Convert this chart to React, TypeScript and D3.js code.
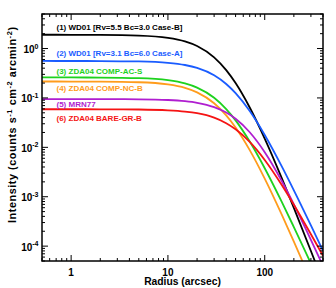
import React from "react";
import * as d3 from "d3";

const radii = [0.5, 1, 2, 5, 10, 15, 20, 30, 40, 50, 70, 100, 150, 200, 300, 400];
const wd01CaseB = [1.9, 1.897, 1.889, 1.833, 1.651, 1.399, 1.128, 0.664, 0.366, 0.2, 0.064, 0.01505, 0.00238, 5.95e-4, 7.98e-5, 1.88e-5];
const wd01CaseA = [0.56, 0.559, 0.558, 0.548, 0.514, 0.464, 0.405, 0.287, 0.1916, 0.125, 0.0542, 0.0178, 0.00412, 0.00135, 2.63e-4, 8.0e-5];
const zda04AcS = [0.26, 0.2597, 0.2586, 0.2516, 0.2287, 0.1967, 0.162, 0.1008, 0.0595, 0.0351, 0.01308, 0.00378, 7.87e-4, 2.43e-4, 4.47e-5, 1.32e-5];
const zda04NcB = [0.215, 0.2147, 0.2138, 0.2076, 0.1874, 0.1596, 0.1296, 0.078, 0.0444, 0.0252, 0.00878, 0.00233, 4.34e-4, 1.24e-4, 2.0e-5, 5.5e-6];
const mrn77 = [0.095, 0.095, 0.0948, 0.0939, 0.0908, 0.0859, 0.0797, 0.0651, 0.0505, 0.0378, 0.0202, 0.00798, 0.00208, 6.98e-4, 1.34e-4, 3.98e-5];
const zda04BareGrB = [0.059, 0.059, 0.0589, 0.0583, 0.0562, 0.053, 0.049, 0.0398, 0.0308, 0.0232, 0.01287, 0.00556, 0.00173, 6.88e-4, 1.74e-4, 6.4e-5];

const seriesLabels = [
  "(1) WD01 [Rv=5.5 Bc=3.0 Case-B]",
  "(2) WD01 [Rv=3.1 Bc=6.0 Case-A]",
  "(3) ZDA04 COMP-AC-S",
  "(4) ZDA04 COMP-NC-B",
  "(5) MRN77",
  "(6) ZDA04 BARE-GR-B",
];
const seriesValues = [wd01CaseB, wd01CaseA, zda04AcS, zda04NcB, mrn77, zda04BareGrB];
const seriesColors = ["#000000", "#1a5cff", "#1ed21e", "#ff9c1c", "#b01ed0", "#f51414"];
const labelY = [27, 53, 70.5, 88, 103.5, 118];

const xTickValues = [1, 10, 100];
const yExponents = [0, -1, -2, -3, -4];

const W = 336;
const H = 288;
const L = 42, R = 323, T = 14, B = 261;
const FONT = "'Liberation Sans', Arial, Helvetica, sans-serif";

export default function App() {
  const x = d3.scaleLog().domain([0.5, 400]).range([L, R]);
  const y = d3.scaleLog().domain([5e-5, 5]).range([B, T]);

  const line = d3
    .line<[number, number]>()
    .x((d) => x(d[0]))
    .y((d) => y(d[1]))
    .curve(d3.curveMonotoneX);

  const xMinor: number[] = [];
  for (let e = -1; e <= 2; e++) {
    for (let m = 1; m <= 9; m++) {
      const v = m * Math.pow(10, e);
      if (v >= 0.5 && v <= 400) xMinor.push(v);
    }
  }
  const yMinor: number[] = [];
  for (let e = -5; e <= 0; e++) {
    for (let m = 1; m <= 9; m++) {
      const v = m * Math.pow(10, e);
      if (v >= 5e-5 && v <= 5) yMinor.push(v);
    }
  }
  const isMajor = (v: number) => Math.abs(Math.log10(v) - Math.round(Math.log10(v))) < 1e-9;
  const majorLen = 6;
  const minorLen = 3;

  return (
    <svg width={W} height={H} style={{ position: "fixed", left: 0, top: 0, background: "#fff" }} fontFamily={FONT}>
      <defs>
        <clipPath id="plotclip">
          <rect x={L} y={T} width={R - L} height={B - T} />
        </clipPath>
      </defs>
      <rect x={0} y={0} width={W} height={H} fill="#fff" />
      <g clipPath="url(#plotclip)">
        {seriesValues.map((vals, i) => (
          <path
            key={i}
            d={line(radii.map((r, j) => [r, vals[j]] as [number, number])) || ""}
            fill="none"
            stroke={seriesColors[i]}
            strokeWidth={1.8}
          />
        ))}
      </g>
      <g stroke="#000" strokeWidth={1}>
        {xMinor.map((v, i) => {
          const len = isMajor(v) ? majorLen : minorLen;
          const px = x(v);
          return (
            <g key={"xt" + i}>
              <line x1={px} x2={px} y1={B} y2={B - len} />
              <line x1={px} x2={px} y1={T} y2={T + len} />
            </g>
          );
        })}
        {yMinor.map((v, i) => {
          const len = isMajor(v) ? majorLen : minorLen;
          const py = y(v);
          return (
            <g key={"yt" + i}>
              <line x1={L} x2={L + len} y1={py} y2={py} />
              <line x1={R} x2={R - len} y1={py} y2={py} />
            </g>
          );
        })}
      </g>
      <rect x={L} y={T} width={R - L} height={B - T} fill="none" stroke="#000" strokeWidth={1.5} />
      {seriesLabels.map((s, i) => (
        <text key={"lab" + i} x={56.5} y={labelY[i] + 3} fontSize={8} fontWeight="bold" fill={seriesColors[i]}>
          {s}
        </text>
      ))}
      {xTickValues.map((v) => (
        <text key={"xl" + v} x={x(v)} y={275.5} fontSize={10} fontWeight="bold" textAnchor="middle">
          {v}
        </text>
      ))}
      {yExponents.map((e) => (
        <text key={"yl" + e} x={38.5} y={y(Math.pow(10, e)) + 4.5} fontSize={10} fontWeight="bold" textAnchor="end">
          10
          <tspan fontSize={7} dy={-4.5}>{String(e)}</tspan>
        </text>
      ))}
      <text x={(L + R) / 2} y={285} fontSize={10.3} fontWeight="bold" textAnchor="middle">
        Radius (arcsec)
      </text>
      <text
        transform={`translate(15.5, 125) rotate(-90)`}
        fontSize={10.8}
        fontWeight="bold"
        textAnchor="middle"
        textLength={196}
        lengthAdjust="spacing"
      >
        Intensity (counts s<tspan fontSize={7.5} dy={-4}>-1</tspan>
        <tspan dy={4}> cm</tspan>
        <tspan fontSize={7.5} dy={-4}>-2</tspan>
        <tspan dy={4}> arcmin</tspan>
        <tspan fontSize={7.5} dy={-4}>-2</tspan>
        <tspan dy={4}>)</tspan>
      </text>
    </svg>
  );
}
